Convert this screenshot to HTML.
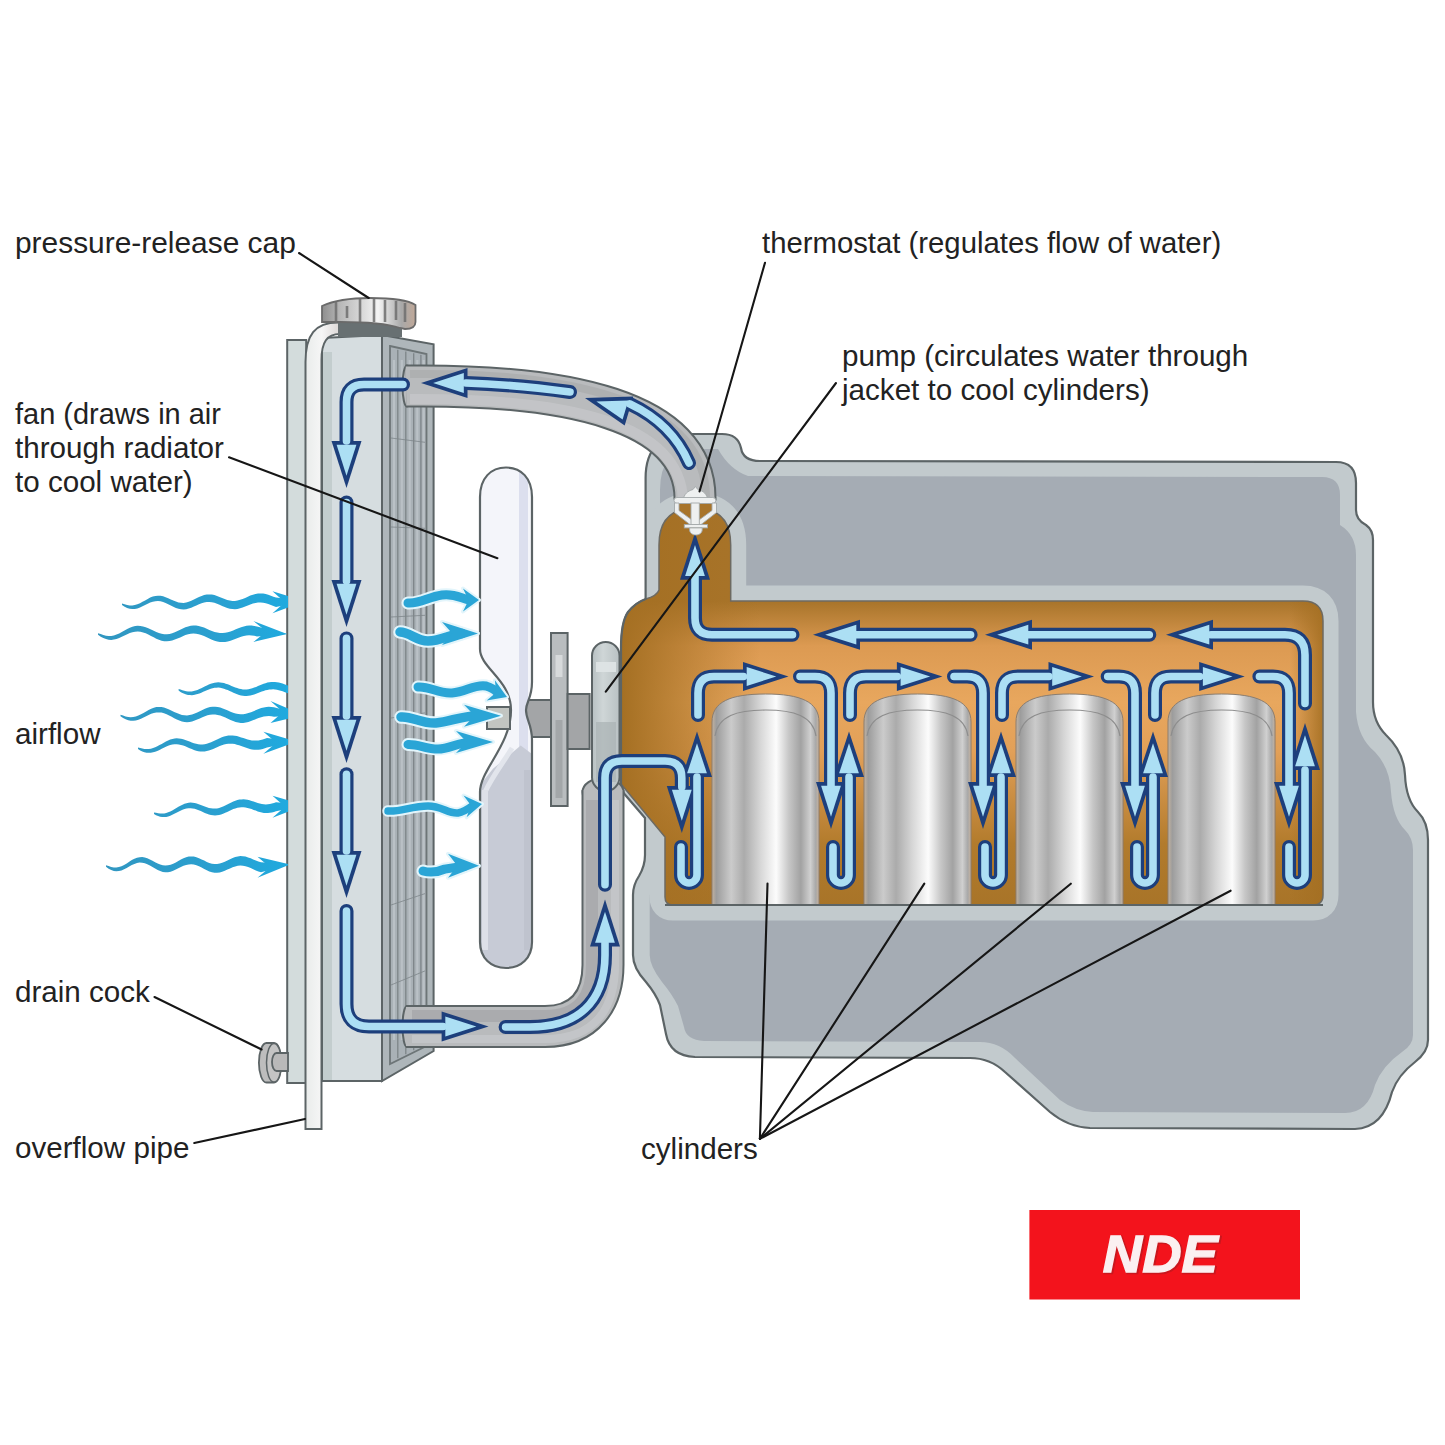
<!DOCTYPE html><html><head><meta charset="utf-8"><style>html,body{margin:0;padding:0;background:#fff;width:1445px;height:1445px;overflow:hidden}svg{display:block}</style></head><body><svg width="1445" height="1445" viewBox="0 0 1445 1445"><defs>
<linearGradient id="cyl" x1="0" y1="0" x2="1" y2="0">
 <stop offset="0" stop-color="#c4b3a0"/>
 <stop offset="0.04" stop-color="#9c9c9c"/>
 <stop offset="0.18" stop-color="#cbcbcb"/>
 <stop offset="0.30" stop-color="#ababab"/>
 <stop offset="0.45" stop-color="#d6d6d6"/>
 <stop offset="0.60" stop-color="#fcfcfc"/>
 <stop offset="0.72" stop-color="#c6c6c6"/>
 <stop offset="0.83" stop-color="#a2a2a2"/>
 <stop offset="0.92" stop-color="#d0d0d0"/>
 <stop offset="0.97" stop-color="#a8a8a8"/>
 <stop offset="1" stop-color="#c9b49e"/>
</linearGradient>
<linearGradient id="jackR" gradientUnits="userSpaceOnUse" x1="1290" y1="0" x2="1323" y2="0">
 <stop offset="0" stop-color="#a46f22" stop-opacity="0"/>
 <stop offset="1" stop-color="#a46f22" stop-opacity="0.9"/>
</linearGradient>
<linearGradient id="jack" gradientUnits="userSpaceOnUse" x1="0" y1="500" x2="0" y2="905">
 <stop offset="0" stop-color="#a8742a"/>
 <stop offset="0.25" stop-color="#a8742a"/>
 <stop offset="0.36" stop-color="#dc9a52"/>
 <stop offset="0.50" stop-color="#e8a75e"/>
 <stop offset="0.62" stop-color="#e2a058"/>
 <stop offset="0.85" stop-color="#b27b2c"/>
 <stop offset="1" stop-color="#a87428"/>
</linearGradient>
<linearGradient id="jackL" gradientUnits="userSpaceOnUse" x1="620" y1="0" x2="760" y2="0">
 <stop offset="0" stop-color="#a46f22" stop-opacity="1"/>
 <stop offset="1" stop-color="#a46f22" stop-opacity="0"/>
</linearGradient>
<linearGradient id="pipe" x1="0" y1="0" x2="1" y2="0">
 <stop offset="0" stop-color="#e9eceb"/>
 <stop offset="0.35" stop-color="#f6f6f6"/>
 <stop offset="1" stop-color="#c9c1bf"/>
</linearGradient>
<linearGradient id="cap" x1="0" y1="0" x2="1" y2="0">
 <stop offset="0" stop-color="#8e8e8e"/>
 <stop offset="0.2" stop-color="#b9b9b9"/>
 <stop offset="0.45" stop-color="#dcdcdc"/>
 <stop offset="0.6" stop-color="#f4f4f4"/>
 <stop offset="0.85" stop-color="#a9a9a9"/>
 <stop offset="1" stop-color="#c0a898"/>
</linearGradient>
<linearGradient id="fanU" x1="0" y1="0" x2="1" y2="0">
 <stop offset="0" stop-color="#eef0f6"/>
 <stop offset="0.55" stop-color="#f7f8fc"/>
 <stop offset="0.7" stop-color="#dadced"/>
 <stop offset="1" stop-color="#e6e8f2"/>
</linearGradient>
<linearGradient id="fanL" x1="0" y1="0" x2="1" y2="0">
 <stop offset="0" stop-color="#e3e6ee"/>
 <stop offset="0.15" stop-color="#c4c8d3"/>
 <stop offset="1" stop-color="#c9cdd8"/>
</linearGradient>
<linearGradient id="pump" x1="0" y1="0" x2="1" y2="0">
 <stop offset="0" stop-color="#b7c0c2"/>
 <stop offset="0.4" stop-color="#cfd6d7"/>
 <stop offset="1" stop-color="#b9c1c3"/>
</linearGradient>
<clipPath id="blk"><path id="blkpath" d="M645.6 599 L645.6 478 Q645.6 434 690 434 L722 434 Q738 434 741 448 Q743 461 760 461 L1336 462 Q1356 462 1356 483 L1356 510 Q1356 520 1366 525 Q1373 530 1373 540 L1373 702 Q1373 722 1386 735 Q1404 752 1405 775 Q1406 800 1418 812 Q1428 822 1428 840 L1428 1040 Q1428 1052 1415 1062 Q1398 1075 1392 1092 Q1383 1128 1355 1129 L1090 1128 Q1068 1127 1050 1112 L1005 1072 Q990 1058 970 1058 L695 1057 Q670 1056 666 1034 L660 1005 Q656 994 646 982 Q633 968 633 955 L633 895 Q633 885 639 876 Q645 866 645 855 L645 818 L621 790 L621 648 Q621 622 628 612 Q635 603 645.6 599 Z"/></clipPath>
<linearGradient id="airg" gradientUnits="userSpaceOnUse" x1="100" y1="0" x2="290" y2="0"><stop offset="0" stop-color="#3196c0"/><stop offset="0.6" stop-color="#2aa0d0"/><stop offset="1" stop-color="#1faadf"/></linearGradient>
<clipPath id="radclip"><rect x="0" y="0" width="288" height="1445"/></clipPath>
</defs><rect width="1445" height="1445" fill="#fff"/><g>
<path d="M645.6 599 L645.6 478 Q645.6 434 690 434 L722 434 Q738 434 741 448 Q743 461 760 461 L1336 462 Q1356 462 1356 483 L1356 510 Q1356 520 1366 525 Q1373 530 1373 540 L1373 702 Q1373 722 1386 735 Q1404 752 1405 775 Q1406 800 1418 812 Q1428 822 1428 840 L1428 1040 Q1428 1052 1415 1062 Q1398 1075 1392 1092 Q1383 1128 1355 1129 L1090 1128 Q1068 1127 1050 1112 L1005 1072 Q990 1058 970 1058 L695 1057 Q670 1056 666 1034 L660 1005 Q656 994 646 982 Q633 968 633 955 L633 895 Q633 885 639 876 Q645 866 645 855 L645 818 L621 790 L621 648 Q621 622 628 612 Q635 603 645.6 599 Z" fill="#c2cacd"/>
<path d="M660 620 L660 490 Q660 449 695 449 L718 449 Q730 470 748 476 L1322 477 Q1340 477 1340 495 L1340 525 Q1356 535 1356 555 L1356 712 Q1358 738 1375 752 Q1390 768 1391 792 Q1393 818 1405 830 Q1413 838 1413 850 L1413 1035 Q1413 1045 1402 1052 Q1382 1066 1375 1085 Q1368 1113 1345 1113 L1093 1112 Q1075 1111 1060 1100 L1015 1058 Q1000 1042 980 1042 L704 1041 Q686 1040 684 1027 L678 1006 Q672 994 662 982 Q649.7 966 649.7 955 L649.7 895 Q660 880 660 860 Z" fill="#a5acb4"/>
<path d="M659 590 L659 545 Q659 508 695 508 Q730.7 508 730.7 545 L730.7 601 L1303 601 Q1323 601 1323 621 L1323 895 Q1323 905 1313 905 L673 905 Q665 905 665 897 L665 837 L621 784 L621 648 Q621 622 628 612 Q635 603 645.6 599 Q657 596 659 590 Z" fill="none" stroke="#c2cacd" stroke-width="31" clip-path="url(#blk)"/>
<path d="M659 590 L659 545 Q659 508 695 508 Q730.7 508 730.7 545 L730.7 601 L1303 601 Q1323 601 1323 621 L1323 895 Q1323 905 1313 905 L673 905 Q665 905 665 897 L665 837 L621 784 L621 648 Q621 622 628 612 Q635 603 645.6 599 Q657 596 659 590 Z" fill="url(#jack)"/>
<path d="M659 590 L659 545 Q659 508 695 508 Q730.7 508 730.7 545 L730.7 601 L1303 601 Q1323 601 1323 621 L1323 895 Q1323 905 1313 905 L673 905 Q665 905 665 897 L665 837 L621 784 L621 648 Q621 622 628 612 Q635 603 645.6 599 Q657 596 659 590 Z" fill="url(#jackL)"/>
<path d="M659 590 L659 545 Q659 508 695 508 Q730.7 508 730.7 545 L730.7 601 L1303 601 Q1323 601 1323 621 L1323 895 Q1323 905 1313 905 L673 905 Q665 905 665 897 L665 837 L621 784 L621 648 Q621 622 628 612 Q635 603 645.6 599 Q657 596 659 590 Z" fill="url(#jackR)"/>
<path d="M659 590 L659 545 Q659 508 695 508 Q730.7 508 730.7 545 L730.7 601 L1303 601 Q1323 601 1323 621 L1323 895 Q1323 905 1313 905 L673 905 Q665 905 665 897 L665 837 L621 784 L621 648 Q621 622 628 612 Q635 603 645.6 599 Q657 596 659 590 Z" fill="none" stroke="#6d6a62" stroke-width="1.5"/>
<path d="M645.6 599 L645.6 478 Q645.6 434 690 434 L722 434 Q738 434 741 448 Q743 461 760 461 L1336 462 Q1356 462 1356 483 L1356 510 Q1356 520 1366 525 Q1373 530 1373 540 L1373 702 Q1373 722 1386 735 Q1404 752 1405 775 Q1406 800 1418 812 Q1428 822 1428 840 L1428 1040 Q1428 1052 1415 1062 Q1398 1075 1392 1092 Q1383 1128 1355 1129 L1090 1128 Q1068 1127 1050 1112 L1005 1072 Q990 1058 970 1058 L695 1057 Q670 1056 666 1034 L660 1005 Q656 994 646 982 Q633 968 633 955 L633 895 Q633 885 639 876 Q645 866 645 855 L645 818 L621 790 L621 648 Q621 622 628 612 Q635 603 645.6 599 Z" fill="none" stroke="#5c6466" stroke-width="2.2"/>
<path d="M712 905 L712 722 C712 702 730 694 765.5 694 C801 694 819 702 819 722 L819 905 Z" fill="url(#cyl)" stroke="#8a7d70" stroke-width="1"/><path d="M715 736 C718 716 737 710 765.5 710 C794 710 813 716 816 736" fill="none" stroke="#8d8d8d" stroke-width="1.2"/><path d="M864 905 L864 722 C864 702 882 694 917.5 694 C953 694 971 702 971 722 L971 905 Z" fill="url(#cyl)" stroke="#8a7d70" stroke-width="1"/><path d="M867 736 C870 716 889 710 917.5 710 C946 710 965 716 968 736" fill="none" stroke="#8d8d8d" stroke-width="1.2"/><path d="M1016 905 L1016 722 C1016 702 1034 694 1069.5 694 C1105 694 1123 702 1123 722 L1123 905 Z" fill="url(#cyl)" stroke="#8a7d70" stroke-width="1"/><path d="M1019 736 C1022 716 1041 710 1069.5 710 C1098 710 1117 716 1120 736" fill="none" stroke="#8d8d8d" stroke-width="1.2"/><path d="M1168 905 L1168 722 C1168 702 1186 694 1221.5 694 C1257 694 1275 702 1275 722 L1275 905 Z" fill="url(#cyl)" stroke="#8a7d70" stroke-width="1"/><path d="M1171 736 C1174 716 1193 710 1221.5 710 C1250 710 1269 716 1272 736" fill="none" stroke="#8d8d8d" stroke-width="1.2"/><line x1="665" y1="905" x2="1323" y2="905" stroke="#5c6466" stroke-width="2"/></g><g>
<rect x="287.2" y="340" width="19" height="743" fill="#d3dcdc" stroke="#5c6466" stroke-width="2"/>
<polygon points="382,335 433.6,344.3 433.6,1051 382,1081" fill="#aeb6ba" stroke="#5c6466" stroke-width="2"/>
<polygon points="390,346 426.5,354 426.5,1046 390,1064" fill="#a9b1b6" stroke="#6d7577" stroke-width="1.8"/>
<line x1="397.8" y1="349.7" x2="397.8" y2="1058.2" stroke="#7d8588" stroke-width="1.3"/><line x1="405.8" y1="351.5" x2="405.8" y2="1054.2" stroke="#7d8588" stroke-width="1.3"/><line x1="413.7" y1="353.2" x2="413.7" y2="1050.3" stroke="#7d8588" stroke-width="1.3"/><line x1="420.9" y1="354.8" x2="420.9" y2="1046.8" stroke="#7d8588" stroke-width="1.3"/><line x1="394" y1="360" x2="394" y2="1040" stroke="#bfc6ca" stroke-width="2.2" opacity="0.8"/><line x1="401.8" y1="360" x2="401.8" y2="1040" stroke="#bfc6ca" stroke-width="2.2" opacity="0.8"/><line x1="409.7" y1="360" x2="409.7" y2="1040" stroke="#bfc6ca" stroke-width="2.2" opacity="0.8"/><line x1="417.3" y1="360" x2="417.3" y2="1040" stroke="#bfc6ca" stroke-width="2.2" opacity="0.8"/><line x1="423.7" y1="360" x2="423.7" y2="1040" stroke="#bfc6ca" stroke-width="2.2" opacity="0.8"/><line x1="391" y1="438" x2="425" y2="442.3" stroke="#7f878b" stroke-width="1" opacity="0.8"/><line x1="391" y1="527" x2="425" y2="528.3" stroke="#7f878b" stroke-width="1" opacity="0.8"/><line x1="391" y1="617" x2="425" y2="615.3" stroke="#7f878b" stroke-width="1" opacity="0.8"/><line x1="391" y1="718" x2="425" y2="712.9" stroke="#7f878b" stroke-width="1" opacity="0.8"/><line x1="391" y1="812" x2="425" y2="803.7" stroke="#7f878b" stroke-width="1" opacity="0.8"/><line x1="391" y1="905" x2="425" y2="893.6" stroke="#7f878b" stroke-width="1" opacity="0.8"/><line x1="391" y1="985" x2="425" y2="970.9" stroke="#7f878b" stroke-width="1" opacity="0.8"/><polygon points="322,338 382,335 382,1081 322,1081" fill="#d6dde0" stroke="#5c6466" stroke-width="2"/>
<rect x="323" y="352" width="9" height="728" fill="#c3cdce"/>
<path d="M305.5 1129 L305.5 362 C305.5 335 315 322.5 338 322.5 L352 322.5 L352 334 L340 334 C327 334 321.5 342 321.5 360 L321.5 1129 Z" fill="url(#pipe)" stroke="#5c6466" stroke-width="2"/>
<path d="M338 322 L402 322 L402 337 L338 337 Z" fill="#687072"/>
<path d="M322 306 C335 300 352 298 370 298 C390 298 408 300 415.5 305 L415.5 322 C415.5 327 412 329 405 329 L400 328 C385 323 360 322 340 322 L322 322 Z" fill="url(#cap)" stroke="#6a6a6a" stroke-width="1.8"/>
<line x1="336" y1="302" x2="336" y2="323" stroke="#6f6f6f" stroke-width="2.6" opacity="0.85"/><line x1="347" y1="306" x2="347" y2="318" stroke="#6f6f6f" stroke-width="2.6" opacity="0.85"/><line x1="360" y1="299" x2="360" y2="322" stroke="#6f6f6f" stroke-width="2.6" opacity="0.85"/><line x1="374" y1="299" x2="374" y2="322" stroke="#6f6f6f" stroke-width="2.6" opacity="0.85"/><line x1="385" y1="300" x2="385" y2="322" stroke="#6f6f6f" stroke-width="2.6" opacity="0.85"/><line x1="396" y1="301" x2="396" y2="320" stroke="#6f6f6f" stroke-width="2.6" opacity="0.85"/><line x1="405" y1="303" x2="405" y2="322" stroke="#6f6f6f" stroke-width="2.6" opacity="0.85"/><path d="M266.5 1043 L274 1043 A7.5 19.5 0 0 1 274 1082.5 L266.5 1082.5 A7.5 19.5 0 0 1 266.5 1043 Z" fill="#bdbdbd" stroke="#5c6466" stroke-width="1.8"/>
<ellipse cx="274" cy="1062.75" rx="7.5" ry="19.3" fill="#c4c4c4" stroke="#5c6466" stroke-width="1.5"/>
<path d="M276.5 1053 L288 1053 L288 1071 L276.5 1071 A4.5 9 0 0 1 276.5 1053 Z" fill="#b9b9b9" stroke="#5c6466" stroke-width="1.8"/>
</g><g>
<ellipse cx="407" cy="386" rx="4.5" ry="20.5" fill="#b9bbbd" stroke="#5c6466" stroke-width="2"/>
<ellipse cx="407" cy="1026.5" rx="4.5" ry="20.5" fill="#b9bbbd" stroke="#5c6466" stroke-width="2"/>
<path d="M406 386 C565 384 697 410 695 500" fill="none" stroke="#5c6466" stroke-width="43"/>
<path d="M406 386 C565 384 697 410 695 500" fill="none" stroke="#b9bbbd" stroke-width="39"/>
<path d="M410 399 C565 398 680 422 683 500" fill="none" stroke="#c6c7c9" stroke-width="10" opacity="0.8"/>
<path d="M410 374 C570 372 708 400 706 500" fill="none" stroke="#a9abad" stroke-width="8" opacity="0.7"/>
<ellipse cx="603" cy="792" rx="20.5" ry="14" fill="#b9bbbd" stroke="#5c6466" stroke-width="2"/>
<path d="M406 1026.5 L545 1026.5 C585 1026.5 603 1000 603 965 L603 790" fill="none" stroke="#5c6466" stroke-width="43" stroke-linejoin="round"/>
<path d="M406 1026.5 L545 1026.5 C585 1026.5 603 1000 603 965 L603 790" fill="none" stroke="#b9bbbd" stroke-width="39" stroke-linejoin="round"/>
<path d="M412 1016 L545 1016 C580 1016 592 995 592 965 L592 800" fill="none" stroke="#a6a8aa" stroke-width="12" opacity="0.8"/>
<path d="M412 1039 L545 1039 C598 1039 615 1005 615 965 L615 800" fill="none" stroke="#c6c8ca" stroke-width="8" opacity="0.8"/>
</g><g>
<rect x="551" y="633" width="16.6" height="173" fill="#b9bdbf" stroke="#5c6466" stroke-width="2"/>
<rect x="555.5" y="655" width="7" height="22" fill="#d7dadb"/>
<rect x="555.5" y="720" width="7" height="78" fill="#a3a7a9"/>
<rect x="567.6" y="694" width="22" height="55" fill="#a3a5a7" stroke="#5c6466" stroke-width="2"/>
<rect x="526" y="700" width="25" height="37" fill="#a3a5a7" stroke="#5c6466" stroke-width="2"/>
<rect x="592" y="642" width="27.5" height="149" rx="13.75" fill="url(#pump)" stroke="#5c6466" stroke-width="2"/>
<rect x="596" y="662" width="20" height="10" fill="#dfe4e5" opacity="0.9"/>
<rect x="596" y="722" width="20" height="60" fill="#aab2b4" opacity="0.7"/>
<clipPath id="fanclip"><path d="M480 649 L480 497 C480 478 491 467.5 506 467.5 C521 467.5 532 478 532 497 L532 682 C532 698 526 702 526 710 C526 720 532 724 532 740 L532 942 C532 958 521 968 506 968 C491 968 480 958 480 942 L480 792 C480 770 511 745 511 710 C511 680 480 668 480 649 Z"/></clipPath>
<path d="M480 649 L480 497 C480 478 491 467.5 506 467.5 C521 467.5 532 478 532 497 L532 682 C532 698 526 702 526 710 C526 720 532 724 532 740 L532 942 C532 958 521 968 506 968 C491 968 480 958 480 942 L480 792 C480 770 511 745 511 710 C511 680 480 668 480 649 Z" fill="#f4f5fa"/>
<g clip-path="url(#fanclip)">
<rect x="519" y="470" width="9" height="300" fill="#dcdfee"/>
<polygon points="476,790 493,768.8 520.7,745.5 540,760 540,975 476,975" fill="#c7cbd6"/>
<path d="M485 792 C493 775 505 760 512 748" fill="none" stroke="#e2e5ec" stroke-width="5"/>
<rect x="482" y="790" width="6" height="160" fill="#dde0e8"/>
<rect x="524" y="770" width="6" height="180" fill="#bfc3ce"/>
</g>
<path d="M480 649 L480 497 C480 478 491 467.5 506 467.5 C521 467.5 532 478 532 497 L532 682 C532 698 526 702 526 710 C526 720 532 724 532 740 L532 942 C532 958 521 968 506 968 C491 968 480 958 480 942 L480 792 C480 770 511 745 511 710 C511 680 480 668 480 649 Z" fill="none" stroke="#5c6466" stroke-width="2.2"/>
<rect x="487" y="707" width="23" height="22" fill="#c2c5c1" stroke="#5c6466" stroke-width="2"/>
</g><g clip-path="url(#radclip)"><path d="M122 603.6 L124.6 604.3 L127.1 605 L129.7 605.5 L132.3 605.5 L134.8 605.1 L137.4 604.3 L140 603.2 L142.5 601.8 L145.1 600.4 L147.7 598.9 L150.2 597.6 L152.8 596.6 L155.4 595.9 L157.9 595.7 L160.5 595.8 L163.1 596.3 L165.6 597.2 L168.2 598.3 L170.8 599.5 L173.3 600.6 L175.9 601.6 L178.5 602.4 L181 602.8 L183.6 602.9 L186.2 602.5 L188.7 601.8 L191.3 600.8 L193.9 599.6 L196.4 598.3 L199 597.1 L201.6 596 L204.1 595.1 L206.7 594.6 L209.3 594.4 L211.8 594.6 L214.4 595.1 L217 595.9 L219.5 596.9 L222.1 598 L224.7 599 L227.2 599.9 L229.8 600.5 L232.4 600.9 L234.9 600.9 L237.5 600.5 L240.1 599.8 L242.6 598.9 L245.2 597.9 L247.8 596.7 L250.3 595.6 L252.9 594.7 L255.5 593.9 L258 593.5 L260.6 593.4 L263.2 593.6 L265.7 594.1 L268.3 594.8 L270.9 595.7 L273.4 596.7 L276 597.5 L305 601 L276 607 L273.4 606.1 L270.9 605.1 L268.3 604.1 L265.7 603.3 L263.2 602.8 L260.6 602.5 L258 602.5 L255.5 602.9 L252.9 603.5 L250.3 604.4 L247.8 605.4 L245.2 606.5 L242.6 607.5 L240.1 608.3 L237.5 608.9 L234.9 609.2 L232.4 609.1 L229.8 608.7 L227.2 608 L224.7 607 L222.1 605.9 L219.5 604.8 L217 603.7 L214.4 602.8 L211.8 602.2 L209.3 601.9 L206.7 602 L204.1 602.4 L201.6 603.2 L199 604.2 L196.4 605.4 L193.9 606.6 L191.3 607.7 L188.7 608.6 L186.2 609.2 L183.6 609.4 L181 609.3 L178.5 608.8 L175.9 607.9 L173.3 606.7 L170.8 605.5 L168.2 604.2 L165.6 603 L163.1 602 L160.5 601.3 L157.9 601 L155.4 601.2 L152.8 601.7 L150.2 602.6 L147.7 603.7 L145.1 605 L142.5 606.3 L140 607.4 L137.4 608.4 L134.8 608.9 L132.3 609.1 L129.7 608.7 L127.1 608 L124.6 606.8 L122 605.1Z" fill="url(#airg)"/><polygon points="305,601 272.5,591.3 283.2,600.8 283.2,603.8 272.5,613.3" fill="url(#airg)"/><path d="M98 633.2 L100.7 634.1 L103.3 635 L106 635.7 L108.6 636 L111.2 635.9 L113.9 635.4 L116.5 634.6 L119.2 633.4 L121.8 632 L124.5 630.5 L127.2 629.1 L129.8 627.8 L132.4 626.8 L135.1 626.1 L137.8 625.8 L140.4 625.9 L143.1 626.4 L145.7 627.2 L148.3 628.3 L151 629.5 L153.7 630.8 L156.3 632 L158.9 633 L161.6 633.8 L164.2 634.2 L166.9 634.2 L169.6 633.9 L172.2 633.2 L174.8 632.2 L177.5 631 L180.2 629.7 L182.8 628.5 L185.4 627.3 L188.1 626.4 L190.8 625.8 L193.4 625.5 L196.1 625.5 L198.7 626 L201.3 626.7 L204 627.6 L206.7 628.7 L209.3 629.9 L211.9 631 L214.6 631.9 L217.2 632.6 L219.9 633 L222.6 633.1 L225.2 632.8 L227.8 632.3 L230.5 631.4 L233.2 630.4 L235.8 629.3 L238.4 628.2 L241.1 627.2 L243.8 626.4 L246.4 625.8 L249.1 625.5 L251.7 625.5 L254.3 625.9 L257 626.5 L287 634 L257 636.5 L254.3 635.8 L251.7 635.4 L249.1 635.3 L246.4 635.5 L243.8 636 L241.1 636.8 L238.4 637.7 L235.8 638.7 L233.2 639.8 L230.5 640.7 L227.8 641.5 L225.2 641.9 L222.6 642.1 L219.9 642 L217.2 641.5 L214.6 640.7 L211.9 639.7 L209.3 638.5 L206.7 637.3 L204 636.1 L201.3 635 L198.7 634.2 L196.1 633.7 L193.4 633.6 L190.8 633.8 L188.1 634.3 L185.4 635.1 L182.8 636.2 L180.2 637.4 L177.5 638.5 L174.8 639.6 L172.2 640.5 L169.6 641.1 L166.9 641.3 L164.2 641.2 L161.6 640.7 L158.9 639.8 L156.3 638.7 L153.7 637.3 L151 635.9 L148.3 634.6 L145.7 633.3 L143.1 632.4 L140.4 631.7 L137.8 631.5 L135.1 631.7 L132.4 632.2 L129.8 633.1 L127.2 634.2 L124.5 635.5 L121.8 636.8 L119.2 638 L116.5 639 L113.9 639.6 L111.2 639.9 L108.6 639.7 L106 639.1 L103.3 638.1 L100.7 636.7 L98 634.7Z" fill="url(#airg)"/><polygon points="287,634 253.4,621 264.5,630 264.5,633 253.4,642" fill="url(#airg)"/><path d="M178.6 689.1 L180.5 689.6 L182.4 690.3 L184.3 690.8 L186.2 691.3 L188 691.5 L189.9 691.6 L191.8 691.4 L193.7 691.1 L195.6 690.6 L197.5 689.9 L199.4 689.1 L201.3 688.2 L203.2 687.3 L205.1 686.3 L206.9 685.4 L208.8 684.5 L210.7 683.8 L212.6 683.2 L214.5 682.7 L216.4 682.4 L218.3 682.3 L220.2 682.4 L222.1 682.7 L224 683.1 L225.8 683.7 L227.7 684.3 L229.6 685.1 L231.5 685.9 L233.4 686.7 L235.3 687.4 L237.2 688.1 L239.1 688.7 L241 689.1 L242.9 689.4 L244.8 689.5 L246.6 689.4 L248.5 689.2 L250.4 688.8 L252.3 688.2 L254.2 687.6 L256.1 686.9 L258 686.1 L259.9 685.3 L261.8 684.5 L263.6 683.8 L265.5 683.2 L267.4 682.6 L269.3 682.2 L271.2 682 L273.1 681.9 L275 682 L276.9 682.2 L278.8 682.6 L280.7 683 L282.6 683.6 L284.4 684.2 L286.3 684.9 L288.2 685.6 L290.1 686.2 L292 686.7 L300 689 L292 694.7 L290.1 694.1 L288.2 693.4 L286.3 692.7 L284.4 692 L282.6 691.3 L280.7 690.7 L278.8 690.2 L276.9 689.8 L275 689.5 L273.1 689.3 L271.2 689.4 L269.3 689.6 L267.4 689.9 L265.5 690.3 L263.6 690.9 L261.8 691.6 L259.9 692.3 L258 693 L256.1 693.7 L254.2 694.4 L252.3 695 L250.4 695.4 L248.5 695.8 L246.6 695.9 L244.8 695.9 L242.9 695.8 L241 695.4 L239.1 694.9 L237.2 694.3 L235.3 693.5 L233.4 692.7 L231.5 691.8 L229.6 691 L227.7 690.1 L225.8 689.4 L224 688.7 L222.1 688.2 L220.2 687.8 L218.3 687.6 L216.4 687.7 L214.5 687.8 L212.6 688.2 L210.7 688.7 L208.8 689.4 L206.9 690.2 L205.1 691 L203.2 691.8 L201.3 692.7 L199.4 693.4 L197.5 694.1 L195.6 694.6 L193.7 695 L191.8 695.2 L189.9 695.1 L188 694.9 L186.2 694.4 L184.3 693.8 L182.4 693 L180.5 692 L178.6 690.6Z" fill="url(#airg)"/><path d="M120.5 714.7 L123.1 715.5 L125.6 716.4 L128.2 717 L130.7 717.2 L133.3 717 L135.8 716.4 L138.4 715.4 L141 714.2 L143.5 712.9 L146.1 711.4 L148.6 710 L151.2 708.8 L153.8 707.8 L156.3 707.1 L158.9 706.9 L161.4 707 L164 707.5 L166.6 708.4 L169.1 709.4 L171.7 710.7 L174.2 711.9 L176.8 713.1 L179.3 714.1 L181.9 714.9 L184.5 715.3 L187 715.4 L189.6 715.1 L192.1 714.5 L194.7 713.5 L197.2 712.4 L199.8 711.2 L202.4 709.9 L204.9 708.8 L207.5 707.8 L210 707.1 L212.6 706.7 L215.2 706.7 L217.7 707 L220.3 707.6 L222.8 708.5 L225.4 709.5 L227.9 710.6 L230.5 711.7 L233.1 712.7 L235.6 713.5 L238.2 714.1 L240.7 714.3 L243.3 714.2 L245.9 713.8 L248.4 713.1 L251 712.2 L253.5 711.2 L256.1 710.1 L258.6 709 L261.2 708.1 L263.8 707.4 L266.3 706.9 L268.9 706.7 L271.4 706.9 L274 707.3 L303 715 L274 716.8 L271.4 716.3 L268.9 716.1 L266.3 716.2 L263.8 716.6 L261.2 717.3 L258.6 718.1 L256.1 719.1 L253.5 720.1 L251 721.1 L248.4 721.9 L245.9 722.5 L243.3 722.9 L240.7 722.9 L238.2 722.6 L235.6 722 L233.1 721.1 L230.5 720 L227.9 718.8 L225.4 717.6 L222.8 716.5 L220.3 715.6 L217.7 714.9 L215.2 714.5 L212.6 714.4 L210 714.7 L207.5 715.3 L204.9 716.2 L202.4 717.3 L199.8 718.4 L197.2 719.6 L194.7 720.6 L192.1 721.4 L189.6 722 L187 722.2 L184.5 722 L181.9 721.5 L179.3 720.6 L176.8 719.5 L174.2 718.2 L171.7 716.8 L169.1 715.4 L166.6 714.2 L164 713.3 L161.4 712.6 L158.9 712.4 L156.3 712.5 L153.8 713 L151.2 713.8 L148.6 714.9 L146.1 716.2 L143.5 717.5 L141 718.7 L138.4 719.7 L135.8 720.4 L133.3 720.8 L130.7 720.7 L128.2 720.2 L125.6 719.3 L123.1 718.1 L120.5 716.2Z" fill="url(#airg)"/><polygon points="303,715 270.5,701 281.2,710.5 281.2,713.5 270.5,723" fill="url(#airg)"/><path d="M138 747.6 L140.2 748 L142.3 748.5 L144.4 748.9 L146.6 749.1 L148.8 749 L150.9 748.7 L153.1 748.1 L155.2 747.3 L157.3 746.3 L159.5 745.1 L161.7 743.9 L163.8 742.7 L165.9 741.5 L168.1 740.5 L170.2 739.6 L172.4 738.9 L174.6 738.5 L176.7 738.3 L178.8 738.4 L181 738.7 L183.2 739.3 L185.3 740 L187.4 740.8 L189.6 741.6 L191.8 742.4 L193.9 743.2 L196.1 743.8 L198.2 744.3 L200.3 744.5 L202.5 744.5 L204.7 744.3 L206.8 743.8 L208.9 743.1 L211.1 742.3 L213.2 741.3 L215.4 740.3 L217.6 739.2 L219.7 738.2 L221.8 737.3 L224 736.5 L226.2 735.9 L228.3 735.6 L230.4 735.4 L232.6 735.5 L234.8 735.7 L236.9 736.1 L239.1 736.7 L241.2 737.4 L243.3 738.1 L245.5 738.8 L247.7 739.5 L249.8 740 L251.9 740.4 L254.1 740.6 L256.2 740.6 L258.4 740.4 L260.6 740.1 L262.7 739.5 L264.9 738.8 L267 738 L297 741.5 L267 747.5 L264.9 748.2 L262.7 748.9 L260.6 749.4 L258.4 749.7 L256.2 749.8 L254.1 749.7 L251.9 749.4 L249.8 749 L247.7 748.3 L245.5 747.6 L243.3 746.8 L241.2 746.1 L239.1 745.3 L236.9 744.7 L234.8 744.1 L232.6 743.8 L230.4 743.7 L228.3 743.8 L226.2 744.1 L224 744.6 L221.8 745.3 L219.7 746.1 L217.6 747 L215.4 748 L213.2 748.9 L211.1 749.8 L208.9 750.6 L206.8 751.1 L204.7 751.5 L202.5 751.6 L200.3 751.5 L198.2 751.2 L196.1 750.7 L193.9 749.9 L191.8 749.1 L189.6 748.2 L187.4 747.2 L185.3 746.3 L183.2 745.5 L181 744.9 L178.8 744.4 L176.7 744.2 L174.6 744.3 L172.4 744.6 L170.2 745.1 L168.1 745.8 L165.9 746.7 L163.8 747.8 L161.7 748.8 L159.5 749.9 L157.3 750.9 L155.2 751.7 L153.1 752.3 L150.9 752.7 L148.8 752.8 L146.6 752.7 L144.4 752.2 L142.3 751.5 L140.2 750.5 L138 749.1Z" fill="url(#airg)"/><polygon points="297,741.5 263.4,731.7 274.5,741.2 274.5,744.2 263.4,753.7" fill="url(#airg)"/><path d="M154 812.4 L156 812.8 L158.1 813.2 L160.1 813.5 L162.1 813.6 L164.2 813.4 L166.2 813 L168.2 812.3 L170.3 811.5 L172.3 810.4 L174.3 809.3 L176.4 808 L178.4 806.8 L180.4 805.7 L182.5 804.7 L184.5 803.8 L186.5 803.2 L188.6 802.8 L190.6 802.6 L192.6 802.7 L194.7 803 L196.7 803.5 L198.7 804.2 L200.8 805 L202.8 805.8 L204.8 806.6 L206.9 807.3 L208.9 807.9 L210.9 808.3 L213 808.6 L215 808.6 L217 808.4 L219.1 808 L221.1 807.3 L223.1 806.5 L225.2 805.6 L227.2 804.6 L229.2 803.5 L231.3 802.5 L233.3 801.6 L235.3 800.7 L237.4 800.1 L239.4 799.6 L241.4 799.4 L243.5 799.3 L245.5 799.5 L247.5 799.8 L249.6 800.3 L251.6 800.9 L253.6 801.6 L255.7 802.3 L257.7 802.9 L259.7 803.5 L261.8 804 L263.8 804.3 L265.8 804.4 L267.9 804.3 L269.9 804 L271.9 803.6 L274 802.9 L276 802.2 L305 805 L276 811.2 L274 811.9 L271.9 812.4 L269.9 812.8 L267.9 813 L265.8 813.1 L263.8 812.9 L261.8 812.5 L259.7 812 L257.7 811.4 L255.7 810.6 L253.6 809.9 L251.6 809.1 L249.6 808.5 L247.5 807.9 L245.5 807.5 L243.5 807.2 L241.4 807.2 L239.4 807.4 L237.4 807.8 L235.3 808.4 L233.3 809.1 L231.3 810 L229.2 810.9 L227.2 811.9 L225.2 812.8 L223.1 813.7 L221.1 814.4 L219.1 814.9 L217 815.3 L215 815.4 L213 815.3 L210.9 815 L208.9 814.4 L206.9 813.7 L204.8 812.9 L202.8 812 L200.8 811.1 L198.7 810.2 L196.7 809.5 L194.7 808.8 L192.6 808.4 L190.6 808.2 L188.6 808.3 L186.5 808.5 L184.5 809.1 L182.5 809.8 L180.4 810.7 L178.4 811.7 L176.4 812.7 L174.3 813.8 L172.3 814.8 L170.3 815.7 L168.2 816.4 L166.2 816.9 L164.2 817.1 L162.1 817 L160.1 816.7 L158.1 816.1 L156 815.2 L154 813.9Z" fill="url(#airg)"/><polygon points="305,805 272.5,795.7 283.2,805.2 283.2,808.2 272.5,817.7" fill="url(#airg)"/><path d="M106 865.2 L108.6 866.1 L111.2 867 L113.8 867.5 L116.3 867.6 L118.9 867.1 L121.5 866.2 L124.1 864.9 L126.7 863.4 L129.2 861.7 L131.8 860.1 L134.4 858.8 L137 857.8 L139.6 857.2 L142.2 857.1 L144.8 857.5 L147.3 858.3 L149.9 859.4 L152.5 860.8 L155.1 862.2 L157.7 863.5 L160.2 864.6 L162.8 865.3 L165.4 865.5 L168 865.3 L170.6 864.7 L173.2 863.7 L175.8 862.4 L178.3 861 L180.9 859.6 L183.5 858.3 L186.1 857.3 L188.7 856.6 L191.2 856.4 L193.8 856.6 L196.4 857.3 L199 858.2 L201.6 859.4 L204.2 860.6 L206.8 861.9 L209.3 862.9 L211.9 863.7 L214.5 864.1 L217.1 864 L219.7 863.6 L222.2 862.8 L224.8 861.8 L227.4 860.6 L230 859.3 L232.6 858.1 L235.2 857.1 L237.8 856.4 L240.3 856.1 L242.9 856.2 L245.5 856.6 L248.1 857.4 L250.7 858.3 L253.2 859.4 L255.8 860.5 L258.4 861.5 L261 862.3 L290 864.5 L261 872.3 L258.4 871.5 L255.8 870.4 L253.2 869.2 L250.7 868.1 L248.1 867 L245.5 866.2 L242.9 865.7 L240.3 865.5 L237.8 865.8 L235.2 866.4 L232.6 867.3 L230 868.4 L227.4 869.6 L224.8 870.7 L222.2 871.7 L219.7 872.4 L217.1 872.7 L214.5 872.7 L211.9 872.2 L209.3 871.4 L206.8 870.2 L204.2 868.9 L201.6 867.6 L199 866.3 L196.4 865.3 L193.8 864.5 L191.2 864.2 L188.7 864.4 L186.1 864.9 L183.5 865.8 L180.9 867 L178.3 868.3 L175.8 869.6 L173.2 870.8 L170.6 871.7 L168 872.2 L165.4 872.3 L162.8 871.9 L160.2 871.1 L157.7 869.9 L155.1 868.5 L152.5 866.9 L149.9 865.5 L147.3 864.2 L144.8 863.2 L142.2 862.7 L139.6 862.6 L137 863.1 L134.4 863.9 L131.8 865.1 L129.2 866.5 L126.7 868 L124.1 869.3 L121.5 870.4 L118.9 871.1 L116.3 871.2 L113.8 870.9 L111.2 870.1 L108.6 868.7 L106 866.7Z" fill="url(#airg)"/><polygon points="290,864.5 257.5,856.8 268.2,865.8 268.2,868.8 257.5,877.8" fill="url(#airg)"/></g><path d="M408 603 C420 604 428 597 442 595 C455 593 462 599 470 600" fill="none" stroke="#e3f5fb" stroke-width="13" stroke-linecap="round"/><polygon points="479,600 463,611.5 469.9,597.3 469.9,602.7 463,588.5" fill="#e3f5fb" stroke="#e3f5fb" stroke-width="4" stroke-linejoin="round"/><path d="M400 632 C410 632 416 641 428 641 C442 641 450 634 462 633.5" fill="none" stroke="#e3f5fb" stroke-width="13.5" stroke-linecap="round"/><polygon points="478,633.5 442,645 454.9,630.6 454.9,636.4 442,622" fill="#e3f5fb" stroke="#e3f5fb" stroke-width="4" stroke-linejoin="round"/><path d="M418 687 C430 686 438 694 452 693 C466 692 474 684 486 686 C492 688 495 690 497 692" fill="none" stroke="#e3f5fb" stroke-width="13" stroke-linecap="round"/><polygon points="507,697 486.6,700.6 498.6,690.6 496.5,695.7 494.9,680.2" fill="#e3f5fb" stroke="#e3f5fb" stroke-width="4" stroke-linejoin="round"/><path d="M401 717 C412 716 422 724 436 723 C450 722 460 716 478 715.7" fill="none" stroke="#e3f5fb" stroke-width="13.5" stroke-linecap="round"/><polygon points="501,715.7 464,726.7 477.2,712.9 477.2,718.6 464,704.7" fill="#e3f5fb" stroke="#e3f5fb" stroke-width="4" stroke-linejoin="round"/><path d="M408 744.5 C418 744 426 749 438 749 C450 749 458 742 474 742" fill="none" stroke="#e3f5fb" stroke-width="13" stroke-linecap="round"/><polygon points="493,741.9 456,752.9 469.2,739.2 469.2,744.6 456,730.9" fill="#e3f5fb" stroke="#e3f5fb" stroke-width="4" stroke-linejoin="round"/><path d="M388 811 C400 812 412 806 428 806 C442 806 448 814 458 813 C464 812 468 809 472 806" fill="none" stroke="#e3f5fb" stroke-width="11.5" stroke-linecap="round"/><polygon points="482,804 466.6,817.3 471.9,803.2 472.5,807.6 463.5,795.5" fill="#e3f5fb" stroke="#e3f5fb" stroke-width="4" stroke-linejoin="round"/><path d="M423 871 C430 873 438 872 445 869 L465 866" fill="none" stroke="#e3f5fb" stroke-width="13" stroke-linecap="round"/><polygon points="479,865.8 448,877.8 459.4,863.1 459.4,868.5 448,853.8" fill="#e3f5fb" stroke="#e3f5fb" stroke-width="4" stroke-linejoin="round"/><path d="M408 603 C420 604 428 597 442 595 C455 593 462 599 470 600" fill="none" stroke="#2aa5d6" stroke-width="9" stroke-linecap="round"/><polygon points="479,600 463,611.5 469.9,597.3 469.9,602.7 463,588.5" fill="#2aa5d6"/><path d="M400 632 C410 632 416 641 428 641 C442 641 450 634 462 633.5" fill="none" stroke="#2aa5d6" stroke-width="9.5" stroke-linecap="round"/><polygon points="478,633.5 442,645 454.9,630.6 454.9,636.4 442,622" fill="#2aa5d6"/><path d="M418 687 C430 686 438 694 452 693 C466 692 474 684 486 686 C492 688 495 690 497 692" fill="none" stroke="#2aa5d6" stroke-width="9" stroke-linecap="round"/><polygon points="507,697 486.6,700.6 498.6,690.6 496.5,695.7 494.9,680.2" fill="#2aa5d6"/><path d="M401 717 C412 716 422 724 436 723 C450 722 460 716 478 715.7" fill="none" stroke="#2aa5d6" stroke-width="9.5" stroke-linecap="round"/><polygon points="501,715.7 464,726.7 477.2,712.9 477.2,718.6 464,704.7" fill="#2aa5d6"/><path d="M408 744.5 C418 744 426 749 438 749 C450 749 458 742 474 742" fill="none" stroke="#2aa5d6" stroke-width="9" stroke-linecap="round"/><polygon points="493,741.9 456,752.9 469.2,739.2 469.2,744.6 456,730.9" fill="#2aa5d6"/><path d="M388 811 C400 812 412 806 428 806 C442 806 448 814 458 813 C464 812 468 809 472 806" fill="none" stroke="#2aa5d6" stroke-width="7.5" stroke-linecap="round"/><polygon points="482,804 466.6,817.3 471.9,803.2 472.5,807.6 463.5,795.5" fill="#2aa5d6"/><path d="M423 871 C430 873 438 872 445 869 L465 866" fill="none" stroke="#2aa5d6" stroke-width="9" stroke-linecap="round"/><polygon points="479,865.8 448,877.8 459.4,863.1 459.4,868.5 448,853.8" fill="#2aa5d6"/><g><path d="M403 384.5 L364 384.5 Q346.5 384.5 346.5 402 L346.5 441" fill="none" stroke="#1d3f7c" stroke-width="14" stroke-linecap="round" stroke-linejoin="round"/><path d="M346.5 502.5 L346.5 581" fill="none" stroke="#1d3f7c" stroke-width="14" stroke-linecap="round" stroke-linejoin="round"/><path d="M346.5 638.4 L346.5 716" fill="none" stroke="#1d3f7c" stroke-width="14" stroke-linecap="round" stroke-linejoin="round"/><path d="M346.5 774.3 L346.5 851" fill="none" stroke="#1d3f7c" stroke-width="14" stroke-linecap="round" stroke-linejoin="round"/><path d="M346.5 911 L346.5 1004 Q346.5 1026.5 369 1026.5 L443 1026.5" fill="none" stroke="#1d3f7c" stroke-width="14" stroke-linecap="round" stroke-linejoin="round"/><path d="M505.6 1027 L530 1027 C577 1027 605 1003 605 955 L605 943" fill="none" stroke="#1d3f7c" stroke-width="14" stroke-linecap="round" stroke-linejoin="round"/><path d="M605 884.7 L605 778 Q605 761 622 761 L665 761 Q681.8 761 681.8 778 L681.8 787" fill="none" stroke="#1d3f7c" stroke-width="14" stroke-linecap="round" stroke-linejoin="round"/><path d="M570 392 C540 388 500 384 466 383" fill="none" stroke="#1d3f7c" stroke-width="14" stroke-linecap="round" stroke-linejoin="round"/><path d="M689 463 C679 440 662 419 630 404" fill="none" stroke="#1d3f7c" stroke-width="14" stroke-linecap="round" stroke-linejoin="round"/><path d="M792.5 634.7 L712 634.7 Q695 634.7 695 618 L695 576" fill="none" stroke="#1d3f7c" stroke-width="14" stroke-linecap="round" stroke-linejoin="round"/><path d="M970.6 634.7 L855 634.7" fill="none" stroke="#1d3f7c" stroke-width="14" stroke-linecap="round" stroke-linejoin="round"/><path d="M1149.3 634.7 L1028 634.7" fill="none" stroke="#1d3f7c" stroke-width="14" stroke-linecap="round" stroke-linejoin="round"/><path d="M1305 703.5 L1305 655 Q1305 634.7 1285 634.7 L1211 634.7" fill="none" stroke="#1d3f7c" stroke-width="14" stroke-linecap="round" stroke-linejoin="round"/><path d="M698 715 L698 693 Q698 676.5 714 676.5 L743.5 676.5" fill="none" stroke="#1d3f7c" stroke-width="14" stroke-linecap="round" stroke-linejoin="round"/><path d="M850 715 L850 693 Q850 676.5 866 676.5 L897.4 676.5" fill="none" stroke="#1d3f7c" stroke-width="14" stroke-linecap="round" stroke-linejoin="round"/><path d="M1002 715 L1002 693 Q1002 676.5 1018 676.5 L1049 676.5" fill="none" stroke="#1d3f7c" stroke-width="14" stroke-linecap="round" stroke-linejoin="round"/><path d="M1155 715 L1155 693 Q1155 676.5 1171 676.5 L1199.7 676.5" fill="none" stroke="#1d3f7c" stroke-width="14" stroke-linecap="round" stroke-linejoin="round"/><path d="M800 676.5 L815 676.5 Q831 676.5 831 693 L831 787" fill="none" stroke="#1d3f7c" stroke-width="14" stroke-linecap="round" stroke-linejoin="round"/><path d="M954 676.5 L967 676.5 Q983 676.5 983 693 L983 787" fill="none" stroke="#1d3f7c" stroke-width="14" stroke-linecap="round" stroke-linejoin="round"/><path d="M1107.7 676.5 L1119 676.5 Q1135 676.5 1135 693 L1135 787" fill="none" stroke="#1d3f7c" stroke-width="14" stroke-linecap="round" stroke-linejoin="round"/><path d="M1259.4 676.5 L1273 676.5 Q1289 676.5 1289 693 L1289 787" fill="none" stroke="#1d3f7c" stroke-width="14" stroke-linecap="round" stroke-linejoin="round"/><path d="M681 847 L681 875 A8 8 0 0 0 697 875 L697 777" fill="none" stroke="#1d3f7c" stroke-width="14" stroke-linecap="round" stroke-linejoin="round"/><path d="M833 847 L833 875 A8 8 0 0 0 849 875 L849 777" fill="none" stroke="#1d3f7c" stroke-width="14" stroke-linecap="round" stroke-linejoin="round"/><path d="M985 847 L985 875 A8 8 0 0 0 1001 875 L1001 777" fill="none" stroke="#1d3f7c" stroke-width="14" stroke-linecap="round" stroke-linejoin="round"/><path d="M1137 847 L1137 875 A8 8 0 0 0 1153 875 L1153 777" fill="none" stroke="#1d3f7c" stroke-width="14" stroke-linecap="round" stroke-linejoin="round"/><path d="M1289 847 L1289 875 A8 8 0 0 0 1305 875 L1305 770" fill="none" stroke="#1d3f7c" stroke-width="14" stroke-linecap="round" stroke-linejoin="round"/><polygon points="346.5,488 331.5,441 361.5,441" fill="#1d3f7c"/><polygon points="346.5,627 331.5,580 361.5,580" fill="#1d3f7c"/><polygon points="346.5,763 331.5,716 361.5,716" fill="#1d3f7c"/><polygon points="346.5,898 331.5,851 361.5,851" fill="#1d3f7c"/><polygon points="488.6,1026.5 441.6,1041.5 441.6,1011.5" fill="#1d3f7c"/><polygon points="605,899.5 620,946.5 590,946.5" fill="#1d3f7c"/><polygon points="681.8,833 666.8,786 696.8,786" fill="#1d3f7c"/><polygon points="421,383 467.5,368 467.5,398" fill="#1d3f7c"/><polygon points="585,398 633.3,396.6 624.7,425.4" fill="#1d3f7c"/><polygon points="695,532.7 710,579.7 680,579.7" fill="#1d3f7c"/><polygon points="813,634.7 860,619.7 860,649.7" fill="#1d3f7c"/><polygon points="985,634.7 1032,619.7 1032,649.7" fill="#1d3f7c"/><polygon points="1166,634.7 1213,619.7 1213,649.7" fill="#1d3f7c"/><polygon points="788.5,676.5 743,691 743,662" fill="#1d3f7c"/><polygon points="942.4,676.5 896.9,691 896.9,662" fill="#1d3f7c"/><polygon points="1094,676.5 1048.5,691 1048.5,662" fill="#1d3f7c"/><polygon points="1244.7,676.5 1199.2,691 1199.2,662" fill="#1d3f7c"/><polygon points="831,829 816,782 846,782" fill="#1d3f7c"/><polygon points="983,829 968,782 998,782" fill="#1d3f7c"/><polygon points="1135,829 1120,782 1150,782" fill="#1d3f7c"/><polygon points="1289,829 1274,782 1304,782" fill="#1d3f7c"/><polygon points="697,731.4 712,777 682,777" fill="#1d3f7c"/><polygon points="849,731.4 864,777 834,777" fill="#1d3f7c"/><polygon points="1001,731.4 1016,777 986,777" fill="#1d3f7c"/><polygon points="1153,731.4 1168,777 1138,777" fill="#1d3f7c"/><polygon points="1305,723 1320,770 1290,770" fill="#1d3f7c"/><path d="M403 384.5 L364 384.5 Q346.5 384.5 346.5 402 L346.5 441" fill="none" stroke="#acdff4" stroke-width="7.6" stroke-linecap="round" stroke-linejoin="round"/><path d="M346.5 502.5 L346.5 581" fill="none" stroke="#acdff4" stroke-width="7.6" stroke-linecap="round" stroke-linejoin="round"/><path d="M346.5 638.4 L346.5 716" fill="none" stroke="#acdff4" stroke-width="7.6" stroke-linecap="round" stroke-linejoin="round"/><path d="M346.5 774.3 L346.5 851" fill="none" stroke="#acdff4" stroke-width="7.6" stroke-linecap="round" stroke-linejoin="round"/><path d="M346.5 911 L346.5 1004 Q346.5 1026.5 369 1026.5 L443 1026.5" fill="none" stroke="#acdff4" stroke-width="7.6" stroke-linecap="round" stroke-linejoin="round"/><path d="M505.6 1027 L530 1027 C577 1027 605 1003 605 955 L605 943" fill="none" stroke="#acdff4" stroke-width="7.6" stroke-linecap="round" stroke-linejoin="round"/><path d="M605 884.7 L605 778 Q605 761 622 761 L665 761 Q681.8 761 681.8 778 L681.8 787" fill="none" stroke="#acdff4" stroke-width="7.6" stroke-linecap="round" stroke-linejoin="round"/><path d="M570 392 C540 388 500 384 466 383" fill="none" stroke="#acdff4" stroke-width="7.6" stroke-linecap="round" stroke-linejoin="round"/><path d="M689 463 C679 440 662 419 630 404" fill="none" stroke="#acdff4" stroke-width="7.6" stroke-linecap="round" stroke-linejoin="round"/><path d="M792.5 634.7 L712 634.7 Q695 634.7 695 618 L695 576" fill="none" stroke="#acdff4" stroke-width="7.6" stroke-linecap="round" stroke-linejoin="round"/><path d="M970.6 634.7 L855 634.7" fill="none" stroke="#acdff4" stroke-width="7.6" stroke-linecap="round" stroke-linejoin="round"/><path d="M1149.3 634.7 L1028 634.7" fill="none" stroke="#acdff4" stroke-width="7.6" stroke-linecap="round" stroke-linejoin="round"/><path d="M1305 703.5 L1305 655 Q1305 634.7 1285 634.7 L1211 634.7" fill="none" stroke="#acdff4" stroke-width="7.6" stroke-linecap="round" stroke-linejoin="round"/><path d="M698 715 L698 693 Q698 676.5 714 676.5 L743.5 676.5" fill="none" stroke="#acdff4" stroke-width="7.6" stroke-linecap="round" stroke-linejoin="round"/><path d="M850 715 L850 693 Q850 676.5 866 676.5 L897.4 676.5" fill="none" stroke="#acdff4" stroke-width="7.6" stroke-linecap="round" stroke-linejoin="round"/><path d="M1002 715 L1002 693 Q1002 676.5 1018 676.5 L1049 676.5" fill="none" stroke="#acdff4" stroke-width="7.6" stroke-linecap="round" stroke-linejoin="round"/><path d="M1155 715 L1155 693 Q1155 676.5 1171 676.5 L1199.7 676.5" fill="none" stroke="#acdff4" stroke-width="7.6" stroke-linecap="round" stroke-linejoin="round"/><path d="M800 676.5 L815 676.5 Q831 676.5 831 693 L831 787" fill="none" stroke="#acdff4" stroke-width="7.6" stroke-linecap="round" stroke-linejoin="round"/><path d="M954 676.5 L967 676.5 Q983 676.5 983 693 L983 787" fill="none" stroke="#acdff4" stroke-width="7.6" stroke-linecap="round" stroke-linejoin="round"/><path d="M1107.7 676.5 L1119 676.5 Q1135 676.5 1135 693 L1135 787" fill="none" stroke="#acdff4" stroke-width="7.6" stroke-linecap="round" stroke-linejoin="round"/><path d="M1259.4 676.5 L1273 676.5 Q1289 676.5 1289 693 L1289 787" fill="none" stroke="#acdff4" stroke-width="7.6" stroke-linecap="round" stroke-linejoin="round"/><path d="M681 847 L681 875 A8 8 0 0 0 697 875 L697 777" fill="none" stroke="#acdff4" stroke-width="7.6" stroke-linecap="round" stroke-linejoin="round"/><path d="M833 847 L833 875 A8 8 0 0 0 849 875 L849 777" fill="none" stroke="#acdff4" stroke-width="7.6" stroke-linecap="round" stroke-linejoin="round"/><path d="M985 847 L985 875 A8 8 0 0 0 1001 875 L1001 777" fill="none" stroke="#acdff4" stroke-width="7.6" stroke-linecap="round" stroke-linejoin="round"/><path d="M1137 847 L1137 875 A8 8 0 0 0 1153 875 L1153 777" fill="none" stroke="#acdff4" stroke-width="7.6" stroke-linecap="round" stroke-linejoin="round"/><path d="M1289 847 L1289 875 A8 8 0 0 0 1305 875 L1305 770" fill="none" stroke="#acdff4" stroke-width="7.6" stroke-linecap="round" stroke-linejoin="round"/><polygon points="346.5,475.8 336.6,444.7 356.4,444.7" fill="#acdff4"/><polygon points="346.5,614.8 336.6,583.7 356.4,583.7" fill="#acdff4"/><polygon points="346.5,750.8 336.6,719.7 356.4,719.7" fill="#acdff4"/><polygon points="346.5,885.8 336.6,854.7 356.4,854.7" fill="#acdff4"/><polygon points="476.4,1026.5 445.3,1036.4 445.3,1016.6" fill="#acdff4"/><polygon points="605,911.7 614.9,942.8 595.1,942.8" fill="#acdff4"/><polygon points="681.8,820.8 671.9,789.7 691.7,789.7" fill="#acdff4"/><polygon points="433.1,383 463.8,373.1 463.8,392.9" fill="#acdff4"/><polygon points="596.4,401.4 628.3,400.5 622.6,419.4" fill="#acdff4"/><polygon points="695,544.9 704.9,576 685.1,576" fill="#acdff4"/><polygon points="825.2,634.7 856.3,624.8 856.3,644.6" fill="#acdff4"/><polygon points="997.2,634.7 1028.3,624.8 1028.3,644.6" fill="#acdff4"/><polygon points="1178.2,634.7 1209.3,624.8 1209.3,644.6" fill="#acdff4"/><polygon points="776.3,676.5 746.7,685.9 746.7,667.1" fill="#acdff4"/><polygon points="930.2,676.5 900.6,685.9 900.6,667.1" fill="#acdff4"/><polygon points="1081.8,676.5 1052.2,685.9 1052.2,667.1" fill="#acdff4"/><polygon points="1232.5,676.5 1202.9,685.9 1202.9,667.1" fill="#acdff4"/><polygon points="831,816.8 821.1,785.7 840.9,785.7" fill="#acdff4"/><polygon points="983,816.8 973.1,785.7 992.9,785.7" fill="#acdff4"/><polygon points="1135,816.8 1125.1,785.7 1144.9,785.7" fill="#acdff4"/><polygon points="1289,816.8 1279.1,785.7 1298.9,785.7" fill="#acdff4"/><polygon points="697,743.2 706.9,773.3 687.1,773.3" fill="#acdff4"/><polygon points="849,743.2 858.9,773.3 839.1,773.3" fill="#acdff4"/><polygon points="1001,743.2 1010.9,773.3 991.1,773.3" fill="#acdff4"/><polygon points="1153,743.2 1162.9,773.3 1143.1,773.3" fill="#acdff4"/><polygon points="1305,735.2 1314.9,766.3 1295.1,766.3" fill="#acdff4"/></g><g stroke="#a3a8a9" stroke-width="0.9" fill="#eef0f0">
<path d="M683.5 498.5 C685 492 690 490.5 693 489.5 L695.4 486.5 L697.8 489.5 C701 490.5 706 492 707.5 498.5 Z"/>
<path d="M679 503 L712 503 L712 510.5 L699 520 L692 520 L679 510.5 Z" fill="#a8742a" stroke="none"/>
<rect x="674" y="497.5" width="41.8" height="6" rx="3"/>
<path d="M674.5 503 L679 503 L679 510.5 L692 520 L699 520 L712 510.5 L712 503 L716.5 503 L716.5 512.5 L700.5 525 L690.5 525 L674.5 512.5 Z"/>
<rect x="691" y="503" width="8.3" height="22"/>
<rect x="684.3" y="524.5" width="23.2" height="3.4"/>
<path d="M689.6 527.9 L702.2 527.9 L702.2 530 C702.2 533 699 535 695.9 535 C692.8 535 689.6 533 689.6 530 Z"/>
</g><g stroke="#161616" stroke-width="2.1" fill="none" stroke-linecap="round">
<line x1="299" y1="253" x2="368.7" y2="298"/>
<line x1="229" y1="457.3" x2="497.4" y2="558.2"/>
<line x1="765" y1="262.7" x2="699.5" y2="491.5"/>
<line x1="836" y1="383" x2="605.8" y2="691.7"/>
<line x1="154.5" y1="997" x2="261.6" y2="1049.5"/>
<line x1="194.3" y1="1143" x2="305" y2="1119"/>
<line x1="759.9" y1="1138.8" x2="767.5" y2="883.6"/>
<line x1="759.9" y1="1138.8" x2="924.3" y2="883.6"/>
<line x1="759.9" y1="1138.8" x2="1070.8" y2="883.7"/>
<line x1="759.9" y1="1138.8" x2="1230.6" y2="890.7"/>
</g><g font-family="Liberation Sans, sans-serif" font-size="29.6" fill="#222">
<text x="15" y="253.2" font-size="29.9">pressure-release cap</text>
<text x="762" y="252.7" font-size="29.3">thermostat (regulates flow of water)</text>
<text x="842" y="365.6">pump (circulates water through</text>
<text x="842" y="399.7">jacket to cool cylinders)</text>
<text x="15" y="424" font-size="28.95">fan (draws in air</text>
<text x="15" y="457.6">through radiator</text>
<text x="15" y="491.5">to cool water)</text>
<text x="15" y="744.4">airflow</text>
<text x="15" y="1002">drain cock</text>
<text x="15" y="1158">overflow pipe</text>
<text x="641" y="1158.5">cylinders</text>
</g><g>
<rect x="1029.4" y="1210" width="270.6" height="89.5" fill="#f3131c"/>
<g transform="translate(1160.4 0) scale(1.07 1) translate(-1160.4 0)" font-family="Liberation Sans, sans-serif" font-weight="bold" font-style="italic" font-size="51" text-anchor="middle">
<text x="1161.6" y="1273.3" fill="#b01a20" stroke="#b01a20" stroke-width="2.5" opacity="0.6">NDE</text>
<text x="1160.4" y="1272" fill="#fbf0f1" stroke="#fbf0f1" stroke-width="1.3">NDE</text>
</g>
</g></svg></body></html>
